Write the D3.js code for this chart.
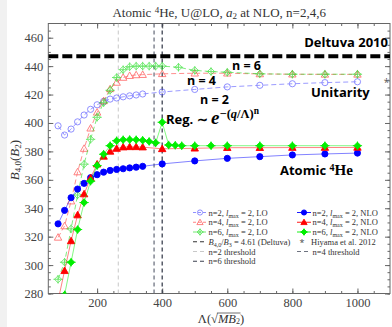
<!DOCTYPE html>
<html>
<head>
<meta charset="utf-8">
<script src="https://cdn.jsdelivr.net/npm/d3@7"></script>
<style>
  body { margin: 0; background: #fff; }
  svg { display: block; }
</style>
</head>
<body>
<svg id="chart" width="392" height="327"></svg>
<script>
// cutoff values (Lambda) for each series
const lamCommon = [80, 100, 120, 140, 160, 180, 200, 220, 240, 260, 280, 300, 320, 340, 400, 500, 600, 700, 800, 900, 1000];
const lamGreenLO = [80, 100, 120, 140, 160, 180, 200, 220, 240, 260, 280, 300, 320, 340, 360, 380, 400, 450, 500, 550, 600, 700, 800, 900, 1000];
const lamGreenNLO = [100, 120, 140, 160, 180, 200, 220, 240, 260, 280, 300, 320, 340, 360, 380, 400, 420, 440, 460, 500, 550, 600, 700, 800, 900, 1000];

const blueLO = [398, 391.5, 395.7, 400.8, 405.6, 409.6, 412.8, 415.2, 416.8, 417.6, 418.4, 419.1, 419.7, 420.4, 421.8, 423.6, 425.4, 426.5, 427.6, 428.4, 429];
const redLO = [319.5, 327.5, 345, 365.5, 382, 396.3, 407.5, 415.5, 424, 428.5, 432, 433.3, 433.8, 434, 434.6, 435, 435, 434.5, 434.3, 434.2, 434.2];
const greenLO = [290, 302, 325.5, 349.3, 371, 388.5, 404, 414.3, 423, 432, 437.5, 439.6, 440, 440, 440, 440, 440, 439.2, 437, 436.2, 435.7, 434.6, 434.3, 434.3, 434.3];

const blueNLO = [329, 338.5, 347.4, 353.5, 357.5, 361.5, 363.6, 365.4, 366.6, 367.3, 367.8, 368.4, 368.9, 369.5, 371.2, 373.3, 375.1, 376.3, 377.5, 378.2, 378.8];
const redNLO = [275, 296, 317, 335.2, 350, 361.3, 371, 376.5, 380, 382, 383, 383.2, 383.2, 383, 381.8, 382.2, 382.6, 382.6, 382.7, 382.7, 382.8];
const greenNLO = [279, 302, 325, 344, 359, 370, 378, 384, 387.5, 388.2, 388.3, 388.2, 387.8, 387, 386, 400.5, 384.5, 384.3, 384, 384, 384, 384, 384, 384, 384, 384];

const deltuva = 447;
const thresholds = [265, 375, 400]; // n=2, n=4, n=6
const hiyama = [1089, 428.6];

const xTicks = [200, 400, 600, 800, 1000];
const yTicks = [280, 300, 320, 340, 360, 380, 400, 420, 440, 460];

const svg = d3.select('#chart');
const pL = 48.3, pR = 390, pT = 23.5, pB = 293.5;

const x = d3.scaleLinear().domain([50, 1100]).range([pL, pR]);
const y = d3.scaleLinear().domain([280, 470]).range([pB, pT]);

// light strip at left edge
svg.append('rect').attr('x', 0).attr('y', 0).attr('width', 7).attr('height', 327).attr('fill', '#f1f1f1');

const serif = '"Liberation Serif", "DejaVu Serif", serif';
const sans = '"Open Sans", "Noto Sans", sans-serif';

svg.append('defs').append('clipPath').attr('id', 'plot')
  .append('rect').attr('x', pL).attr('y', pT).attr('width', pR - pL).attr('height', pB - pT);

// title
const title = svg.append('text')
  .attr('x', (pL + pR) / 2).attr('y', 17)
  .attr('text-anchor', 'middle')
  .style('font-family', serif).style('font-size', '13px').attr('fill', '#333');
title.append('tspan').text('Atomic ');
title.append('tspan').text('4').attr('baseline-shift', '40%').style('font-size', '9px');
title.append('tspan').text('He, U@LO, ');
title.append('tspan').text('a').style('font-style', 'italic');
title.append('tspan').text('2').attr('baseline-shift', '-25%').style('font-size', '9px');
title.append('tspan').text(' at NLO, n=2,4,6');

// axes with inward ticks
function styleAxis(g) {
  g.select('.domain').remove();
  g.selectAll('.tick line').attr('stroke', '#666');
  g.selectAll('.tick text').style('font-family', serif).style('font-size', '12.5px').attr('fill', '#444');
}
const minorX = d3.range(100, 1100, 50);
const minorY = d3.range(280, 470, 5);

svg.append('g').attr('transform', `translate(0,${pB})`)
  .call(d3.axisBottom(x).tickValues(minorX).tickSize(-2.5).tickFormat(''))
  .call(styleAxis);
svg.append('g').attr('transform', `translate(0,${pB})`)
  .call(d3.axisBottom(x).tickValues(xTicks).tickSize(-5).tickPadding(5).tickFormat(d3.format('d')))
  .call(styleAxis);
svg.append('g').attr('transform', `translate(0,${pT})`)
  .call(d3.axisTop(x).tickValues(minorX).tickSize(-2.5).tickFormat(''))
  .call(styleAxis);
svg.append('g').attr('transform', `translate(0,${pT})`)
  .call(d3.axisTop(x).tickValues(xTicks).tickSize(-5).tickFormat(''))
  .call(styleAxis);
svg.append('g').attr('transform', `translate(${pL},0)`)
  .call(d3.axisLeft(y).tickValues(minorY).tickSize(-2.5).tickFormat(''))
  .call(styleAxis);
svg.append('g').attr('transform', `translate(${pL},0)`)
  .call(d3.axisLeft(y).tickValues(yTicks).tickSize(-5).tickPadding(5).tickFormat(d3.format('d')))
  .call(styleAxis);
svg.append('g').attr('transform', `translate(${pR},0)`)
  .call(d3.axisRight(y).tickValues(minorY).tickSize(-2.5).tickFormat(''))
  .call(styleAxis);
svg.append('g').attr('transform', `translate(${pR},0)`)
  .call(d3.axisRight(y).tickValues(yTicks).tickSize(-5).tickFormat(''))
  .call(styleAxis);

svg.append('rect').attr('x', pL).attr('y', pT).attr('width', pR - pL).attr('height', pB - pT)
  .attr('fill', 'none').attr('stroke', '#666').attr('stroke-width', 1);

// axis labels
const yl = svg.append('text')
  .attr('transform', `translate(19,160) rotate(-90)`)
  .attr('text-anchor', 'middle')
  .style('font-family', serif).style('font-size', '13px').attr('fill', '#333');
yl.append('tspan').text('B').style('font-style', 'italic');
yl.append('tspan').text('4,0').attr('baseline-shift', '-25%').style('font-size', '9px');
yl.append('tspan').text('(');
yl.append('tspan').text('B').style('font-style', 'italic');
yl.append('tspan').text('2').attr('baseline-shift', '-25%').style('font-size', '9px');
yl.append('tspan').text(')');

const xlY = 323;
const xl = svg.append('text')
  .attr('x', 221).attr('y', xlY)
  .attr('text-anchor', 'middle')
  .style('font-family', serif).style('font-size', '12.5px').attr('fill', '#333');
xl.append('tspan').text('Λ(√');
const mb = xl.append('tspan').text('MB').style('font-style', 'italic');
const sub2 = xl.append('tspan').text('2').attr('baseline-shift', '-15%').style('font-size', '8px');
xl.append('tspan').text(')');
// bar of the square root over MB2
const bx0 = mb.node().getStartPositionOfChar(0).x;
const bx1 = sub2.node().getEndPositionOfChar(0).x;
svg.append('line').attr('x1', bx0 - 1).attr('x2', bx1 + 0.5).attr('y1', xlY - 10).attr('y2', xlY - 10)
  .attr('stroke', '#333').attr('stroke-width', 0.7);

const plot = svg.append('g').attr('clip-path', 'url(#plot)');

// threshold lines
const thrColor = ['#c8c8c8', '#6e7380', '#3c4150'];
thresholds.forEach((t, i) => {
  plot.append('line')
    .attr('x1', x(t)).attr('x2', x(t)).attr('y1', pT).attr('y2', pB)
    .attr('stroke', thrColor[i]).attr('stroke-width', i === 0 ? 1 : 1.3)
    .attr('stroke-dasharray', '4,3');
});

// Deltuva line
plot.append('line')
  .attr('x1', pL).attr('x2', pR).attr('y1', y(deltuva)).attr('y2', y(deltuva))
  .attr('stroke', '#000').attr('stroke-width', 4).attr('stroke-dasharray', '10,4');

const line = d3.line().x(d => x(d[0])).y(d => y(d[1]));

function marker(g, type, cx, cy, color, filled, r) {
  const fill = filled ? color : 'none';
  if (type === 'circle') {
    g.append('circle').attr('cx', cx).attr('cy', cy).attr('r', r)
      .attr('fill', fill).attr('stroke', color).attr('stroke-width', 0.9);
  } else if (type === 'tri') {
    const s = r * 1.2;
    g.append('path').attr('d', `M${cx},${cy - s}L${cx + s},${cy + s * 0.75}L${cx - s},${cy + s * 0.75}Z`)
      .attr('fill', fill).attr('stroke', color).attr('stroke-width', 0.9);
  } else {
    const s = r * 1.15;
    g.append('path').attr('d', `M${cx},${cy - s}L${cx + s},${cy}L${cx},${cy + s}L${cx - s},${cy}Z`)
      .attr('fill', fill).attr('stroke', color).attr('stroke-width', 0.9);
    g.append('path').attr('d', `M${cx - s * 1.3},${cy}H${cx + s * 1.3}M${cx},${cy - s * 1.2}V${cy + s * 1.2}`)
      .attr('stroke', color).attr('stroke-width', 0.9);
  }
}

const series = [
  { lam: lamCommon, val: blueLO, color: '#5a5aff', type: 'circle', filled: false, dash: '5,3', op: 0.75 },
  { lam: lamCommon, val: redLO, color: '#ff3a3a', type: 'tri', filled: false, dash: '5,3', op: 0.7 },
  { lam: lamGreenLO, val: greenLO, color: '#22dd22', type: 'diamond', filled: false, dash: '5,3', op: 0.7 },
  { lam: lamCommon, val: blueNLO, color: '#0000ff', type: 'circle', filled: true, dash: null, op: 1 },
  { lam: lamCommon, val: redNLO, color: '#ff0000', type: 'tri', filled: true, dash: null, op: 1 },
  { lam: lamGreenNLO, val: greenNLO, color: '#00ee00', type: 'diamond', filled: true, dash: null, op: 1 }
];

series.forEach(s => {
  const pts = s.lam.map((l, i) => [l, s.val[i]]);
  const g = plot.append('g').attr('opacity', s.op);
  g.append('path').datum(pts).attr('d', line)
    .attr('fill', 'none').attr('stroke', s.color).attr('stroke-width', 0.9)
    .attr('stroke-opacity', s.filled ? 0.55 : 0.9)
    .attr('stroke-dasharray', s.dash);
  pts.forEach(p => marker(g, s.type, x(p[0]), y(p[1]), s.color, s.filled, 3.1));
});

// Hiyama et al. 2012
svg.append('text').attr('x', x(hiyama[0])).attr('y', y(hiyama[1]) + 4)
  .attr('text-anchor', 'middle').style('font-family', sans).style('font-size', '10px')
  .attr('fill', '#555').text('*');

// annotations
function bold(txt, xx, yy, size, anchor) {
  return svg.append('text').attr('x', xx).attr('y', yy).attr('text-anchor', anchor || 'start')
    .style('font-family', sans).style('font-weight', 'bold').style('font-size', size + 'px')
    .attr('fill', '#000').text(txt);
}
bold('Deltuva 2010', 388, 47, 13, 'end');
bold('n = 6', 232, 70, 12.5);
bold('n = 4', 187, 85, 12.5);
bold('n = 2', 200, 104, 12.5);
bold('Unitarity', 311, 97, 13);

const reg = svg.append('text').attr('x', 166).attr('y', 124)
  .style('font-family', sans).style('font-weight', 'bold').style('font-size', '13px').attr('fill', '#000');
reg.append('tspan').text('Reg. ∼ ');
reg.append('tspan').text('e').style('font-family', serif).style('font-style', 'italic').style('font-size', '19px');
const sup = reg.append('tspan').attr('baseline-shift', '48%')
  .style('font-family', serif).style('font-size', '12.5px');
sup.append('tspan').text('−(');
sup.append('tspan').text('q').style('font-style', 'italic');
sup.append('tspan').text('/Λ)');
sup.append('tspan').text('n').attr('baseline-shift', '35%').style('font-size', '9.5px');

const atom = svg.append('text').attr('x', 280).attr('y', 175)
  .style('font-weight', 'bold').style('font-size', '13px').attr('fill', '#000');
atom.append('tspan').text('Atomic  ').style('font-family', sans);
atom.append('tspan').text('4').style('font-family', serif).attr('baseline-shift', '45%').style('font-size', '10px');
atom.append('tspan').text('He').style('font-family', serif).style('font-size', '15px');

// legend
const legendRows = [
  [{ s: 0, label: ['n=2, ', 'l', 'max', ' = 2, LO'] }, { s: 3, label: ['n=2, ', 'l', 'max', ' = 2, NLO'] }],
  [{ s: 1, label: ['n=4, ', 'l', 'max', ' = 2, LO'] }, { s: 4, label: ['n=4, ', 'l', 'max', ' = 2, NLO'] }],
  [{ s: 2, label: ['n=6, ', 'l', 'max', ' = 2, LO'] }, { s: 5, label: ['n=6, ', 'l', 'max', ' = 2, NLO'] }],
  [{ kind: 'deltuva' }, { kind: 'hiyama' }],
  [{ kind: 'thr', i: 0, text: 'n=2 threshold' }, { kind: 'thr', i: 1, text: 'n=4 threshold' }],
  [{ kind: 'thr', i: 2, text: 'n=6 threshold' }]
];
const colX = [193, 297];
const legFont = '8.5px';
legendRows.forEach((row, ri) => {
  const ly = 212.5 + ri * 9.75;
  row.forEach((item, ci) => {
    const x0 = colX[ci];
    const g = svg.append('g');
    const t = svg.append('text').attr('x', x0 + 15.5).attr('y', ly + 3)
      .style('font-family', serif).style('font-size', legFont).attr('fill', '#333');
    if (item.s !== undefined) {
      const s = series[item.s];
      g.attr('opacity', s.op);
      g.append('line').attr('x1', x0).attr('x2', x0 + 14).attr('y1', ly).attr('y2', ly)
        .attr('stroke', s.color).attr('stroke-width', 0.9).attr('stroke-dasharray', s.dash ? '3,2' : null);
      marker(g, s.type, x0 + 7, ly, s.color, s.filled, 2.6);
      t.append('tspan').text(item.label[0]);
      t.append('tspan').text(item.label[1]).style('font-style', 'italic');
      t.append('tspan').text(item.label[2]).attr('baseline-shift', '-30%').style('font-size', '6px');
      t.append('tspan').text(item.label[3]);
    } else if (item.kind === 'deltuva') {
      g.append('line').attr('x1', x0).attr('x2', x0 + 14).attr('y1', ly).attr('y2', ly)
        .attr('stroke', '#333').attr('stroke-width', 1).attr('stroke-dasharray', '4,3');
      t.append('tspan').text('B').style('font-style', 'italic');
      t.append('tspan').text('4,0').attr('baseline-shift', '-30%').style('font-size', '6px');
      t.append('tspan').text('/');
      t.append('tspan').text('B').style('font-style', 'italic');
      t.append('tspan').text('3').attr('baseline-shift', '-30%').style('font-size', '6px');
      t.append('tspan').text(' = 4.61 (Deltuva)');
    } else if (item.kind === 'hiyama') {
      g.append('text').attr('x', x0 + 5).attr('y', ly + 4).attr('text-anchor', 'middle')
        .style('font-family', sans).style('font-size', '9px').attr('fill', '#444').text('*');
      t.attr('x', x0 + 14).text('Hiyama et al. 2012');
    } else {
      g.append('line').attr('x1', x0).attr('x2', x0 + 14).attr('y1', ly).attr('y2', ly)
        .attr('stroke', thrColor[item.i]).attr('stroke-width', 1.1).attr('stroke-dasharray', '4,3');
      t.text(item.text);
    }
  });
});
</script>
</body>
</html>
